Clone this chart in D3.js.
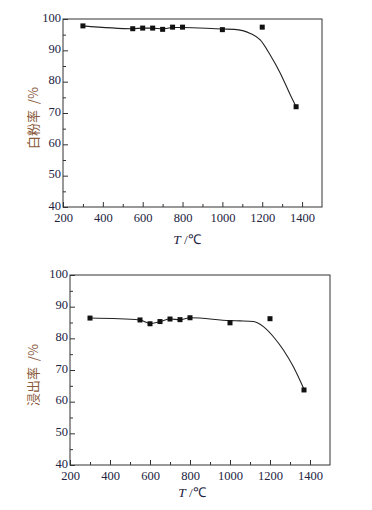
<!DOCTYPE html>
<html lang="zh">
<head>
<meta charset="UTF-8">
<title>白粉率与浸出率</title>
<script src="https://d3js.org/d3.v7.min.js"></script>
<style>
  body { margin: 0; background: #fff; }
  svg { display: block; }
  .tick text { font-family: "Liberation Serif", "DejaVu Serif", serif; font-size: 12.5px; fill: #23233f; }
  .ytitle { font-family: "Noto Sans CJK SC", sans-serif; font-size: 13px; fill: #8a5a3c; }
  .xtitle { font-family: "Liberation Serif", serif; font-size: 13.5px; fill: #23233f; }
</style>
</head>
<body>
<div id="chart"></div>
<script>
// temperatures (°C) of measured points
const temps = [300, 550, 600, 650, 700, 750, 800, 1000, 1200, 1370];
// 白粉率 (%)
const whiteRate = [97.8, 96.9, 97.1, 97.1, 96.7, 97.4, 97.4, 96.6, 97.4, 72.0];
// 浸出率 (%)
const leachRate = [86.4, 85.8, 84.6, 85.3, 86.1, 85.9, 86.5, 84.9, 86.2, 63.7];

// fitted trend curves
const whiteCurveT = [300, 550, 600, 650, 700, 750, 800, 1000, 1060, 1140, 1190, 1240, 1290, 1340, 1370];
const whiteCurveV = [97.8, 96.9, 97.1, 97.1, 96.8, 97.3, 97.3, 96.8, 96.7, 95.4, 93.3, 88.5, 82.8, 75.9, 72.0];
const leachCurveT = [300, 550, 600, 650, 700, 750, 800, 1000, 1050, 1117, 1167, 1217, 1267, 1317, 1370];
const leachCurveV = [86.4, 85.8, 84.7, 85.3, 86.1, 85.9, 86.5, 85.6, 85.5, 85.3, 83.7, 80.5, 76.3, 71.0, 63.9];

const xTicks = [200, 400, 600, 800, 1000, 1200, 1400];
const yTicks = [40, 50, 60, 70, 80, 90, 100];

const svg = d3.select('#chart').append('svg')
    .attr('width', 372)
    .attr('height', 510);

function drawPanel(box, values, curveT, curveV, yLabel) {
    const x = d3.scaleLinear().domain([200, 1500]).range([box.left, box.right]);
    const y = d3.scaleLinear().domain([40, 100]).range([box.bottom, box.top]);
    const g = svg.append('g');

    // frame
    g.append('rect')
        .attr('x', box.left).attr('y', box.top)
        .attr('width', box.right - box.left).attr('height', box.bottom - box.top)
        .attr('fill', 'none').attr('stroke', '#333').attr('stroke-width', 1);

    // minor ticks (inward)
    g.append('g')
        .attr('transform', `translate(0,${box.bottom})`)
        .call(d3.axisTop(x).tickValues(d3.range(300, 1500, 200)).tickSize(3).tickFormat(''))
        .call(a => a.select('.domain').remove());
    g.append('g')
        .attr('transform', `translate(${box.left},0)`)
        .call(d3.axisRight(y).tickValues(d3.range(45, 100, 10)).tickSize(3).tickFormat(''))
        .call(a => a.select('.domain').remove());

    // major ticks inward, labels outside
    const xa = g.append('g')
        .attr('transform', `translate(0,${box.bottom})`)
        .call(d3.axisBottom(x).tickValues(xTicks).tickFormat(d3.format('d'))
            .tickSizeInner(-5).tickSizeOuter(0).tickPadding(6));
    xa.select('.domain').remove();
    const ya = g.append('g')
        .attr('transform', `translate(${box.left},0)`)
        .call(d3.axisLeft(y).tickValues(yTicks).tickFormat(d3.format('d'))
            .tickSizeInner(-5).tickSizeOuter(0).tickPadding(2));
    ya.select('.domain').remove();
    ya.selectAll('.tick text').attr('dy', '0.18em');
    g.selectAll('.tick line').attr('stroke', '#333');

    // curve
    const pts = curveT.map((t, i) => [t, curveV[i]]);
    g.append('path')
        .datum(pts)
        .attr('fill', 'none')
        .attr('stroke', '#222')
        .attr('stroke-width', 1.1)
        .attr('d', d3.line().x(d => x(d[0])).y(d => y(d[1])).curve(d3.curveMonotoneX));

    // markers
    g.selectAll('.pt')
        .data(temps.map((t, i) => [t, values[i]]))
        .enter().append('rect')
        .attr('class', 'pt')
        .attr('x', d => x(d[0]) - 2.5)
        .attr('y', d => y(d[1]) - 2.5)
        .attr('width', 5).attr('height', 5)
        .attr('fill', '#111');

    // titles
    const xt = g.append('text')
        .attr('class', 'xtitle')
        .attr('x', box.xTitleX).attr('y', box.xTitleY)
        .attr('text-anchor', 'middle');
    xt.append('tspan').attr('font-style', 'italic').text('T');
    xt.append('tspan').text(' /℃');

    g.append('text')
        .attr('class', 'ytitle')
        .attr('transform', `translate(${box.yTitleX},${(box.top + box.bottom) / 2 + 5}) rotate(-90)`)
        .attr('text-anchor', 'middle')
        .attr('xml:space', 'preserve')
        .text(yLabel);
}

drawPanel({ left: 63, right: 322, top: 19, bottom: 207, xTitleX: 187, xTitleY: 244, yTitleX: 38 },
    whiteRate, whiteCurveT, whiteCurveV, '白粉率  /%');
drawPanel({ left: 70, right: 330, top: 275, bottom: 465, xTitleX: 192, xTitleY: 497, yTitleX: 38 },
    leachRate, leachCurveT, leachCurveV, '浸出率  /%');
</script>
</body>
</html>
